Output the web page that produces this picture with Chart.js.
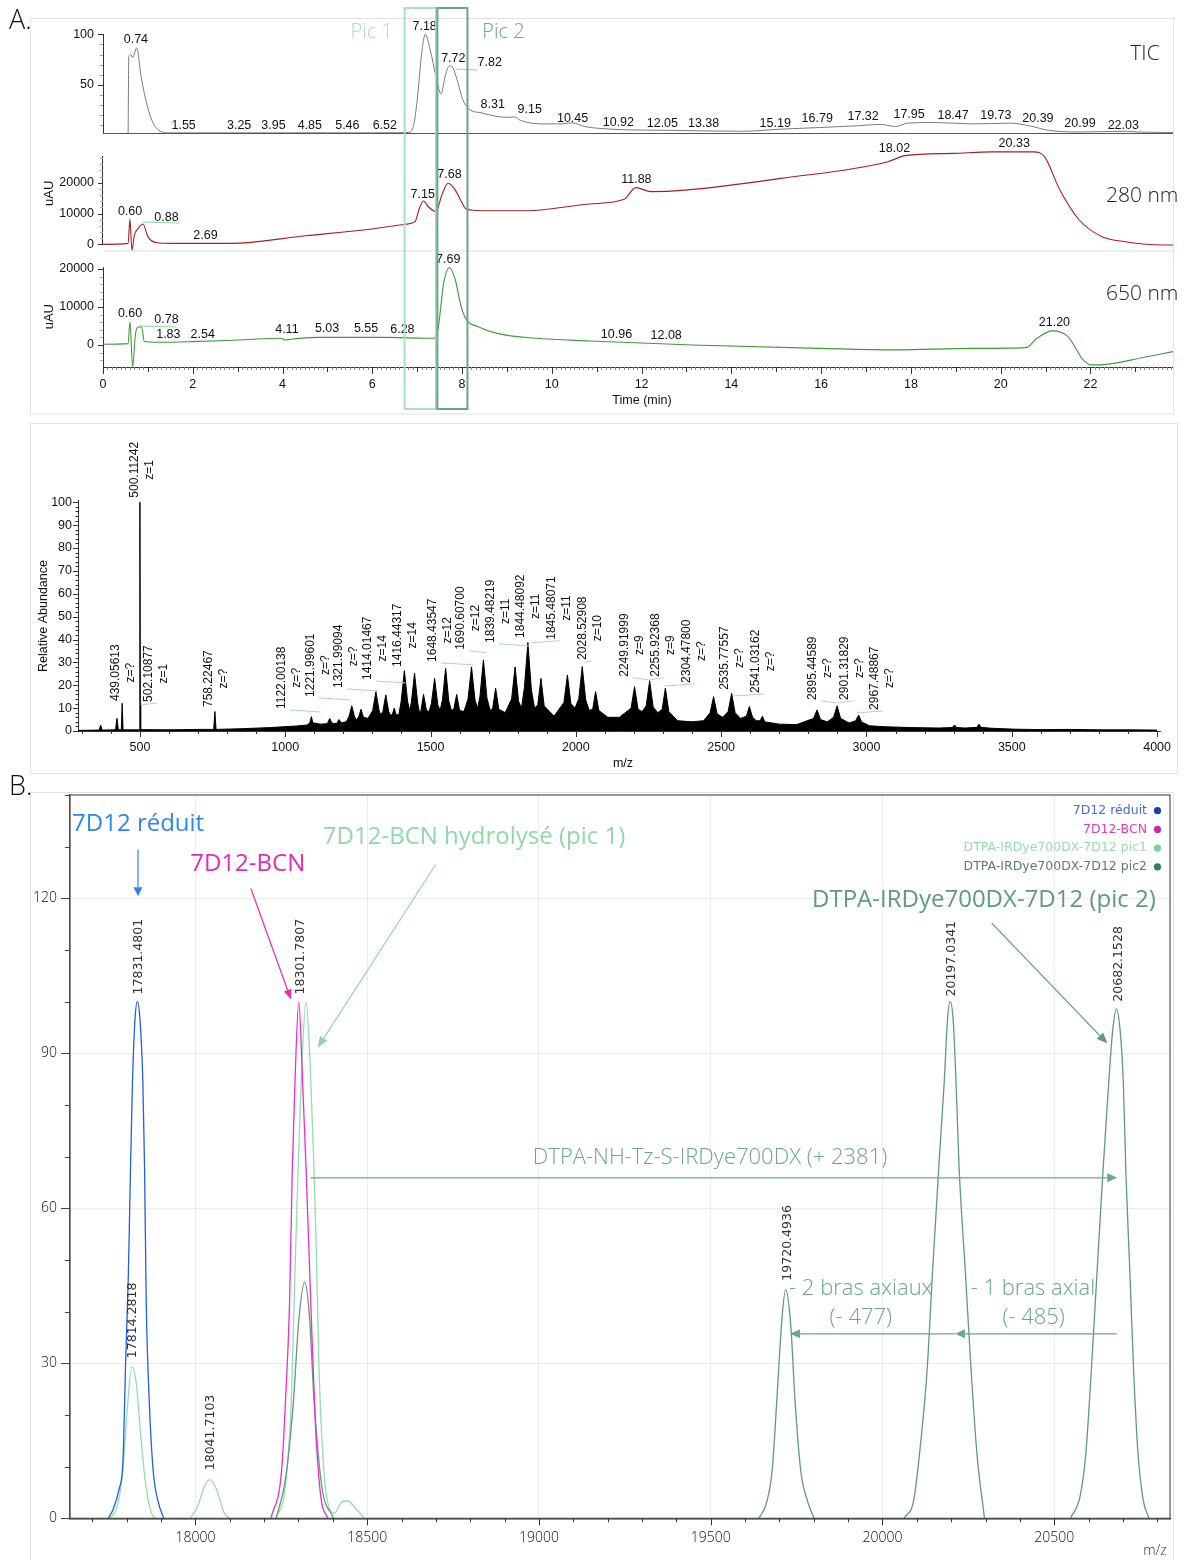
<!DOCTYPE html>
<html>
<head>
<meta charset="utf-8">
<title>Chromatogrammes et spectres de masse 7D12</title>
<script src="https://cdn.jsdelivr.net/npm/chart.js@4.4.1/dist/chart.umd.min.js"></script>
<style>
  html, body { margin: 0; padding: 0; background: #fff; }
  #page { position: relative; width: 1190px; height: 1560px; overflow: hidden; }
  canvas { position: absolute; left: 0; }
</style>
</head>
<body>
<div id="page">
  <canvas id="uv280" width="1190" height="130" style="top:128px"></canvas>
  <canvas id="vis650" width="1190" height="175" style="top:248px"></canvas>
  <canvas id="tic" width="1190" height="420" style="top:0px"></canvas>
  <canvas id="ms" width="1190" height="360" style="top:420px"></canvas>
  <canvas id="deconv" width="1190" height="790" style="top:770px"></canvas>
</div>
<script>
// ---------- A: chromatograms (time in min) ----------
const ticTime = [0.56, 0.575, 0.62, 0.66, 0.75, 0.85, 0.99, 1.12, 1.29, 1.46, 2.5, 3.5, 4.5, 5.5, 6.3, 6.8, 6.92, 7.0, 7.1, 7.18, 7.29, 7.42, 7.53, 7.63, 7.72, 7.8, 7.89, 8.02, 8.19, 8.4, 8.78, 9.05, 9.17, 9.3, 9.81, 10.2, 10.45, 10.74, 11.07, 11.7, 12.55, 13.5, 14.25, 15.1, 15.96, 16.8, 17.32, 17.66, 17.92, 18.51, 19.37, 20.22, 20.64, 21.06, 21.75, 22.78, 23.03, 23.84];
const ticSignal = [2.5, 78, 80, 77, 86.5, 58, 28.6, 12, 4, 2.6, 2.6, 2.6, 2.7, 2.6, 2.7, 3, 10, 35, 81, 100, 84.6, 58, 41, 60, 69, 66.5, 55, 35, 25, 22.7, 18.8, 18, 18.5, 15, 11.5, 11.5, 12.5, 8.9, 7, 5.6, 5.2, 4.5, 4.2, 6.3, 7.9, 9.6, 11, 8.9, 12.2, 12.9, 11.5, 12.2, 9.6, 5.2, 3.5, 4.2, 3.5, 3];

const uvTime = [0, 0.56, 0.6, 0.645, 0.7, 0.77, 0.89, 1.0, 1.2, 1.54, 2.82, 4.52, 6.0, 6.74, 6.95, 7.05, 7.14, 7.25, 7.42, 7.55, 7.69, 7.85, 7.98, 8.1, 8.44, 9.46, 10.84, 11.61, 11.87, 12.21, 12.97, 15.1, 17.49, 17.87, 18.94, 19.79, 20.73, 20.98, 21.32, 21.75, 22.26, 22.78, 23.63, 23.84];
const uvSignal = [0, 300, 8200, -1900, 3000, 4900, 6600, 2500, 500, 300, 300, 2800, 5000, 6500, 7350, 11700, 14060, 12200, 10600, 16000, 19800, 17600, 14000, 11360, 10900, 10900, 13100, 14600, 18400, 17100, 17600, 21400, 26800, 28800, 29500, 30000, 30000, 28400, 17600, 7900, 2500, 850, -200, -200];

const visTime = [0, 0.56, 0.6, 0.66, 0.72, 0.77, 0.86, 0.92, 1.2, 1.97, 3.0, 3.97, 4.06, 4.18, 4.78, 6.23, 7.34, 7.46, 7.59, 7.72, 7.85, 7.98, 8.1, 8.36, 8.78, 9.64, 10.84, 13.14, 15.96, 17.66, 19.37, 20.56, 20.81, 21.15, 21.5, 21.84, 22.0, 22.18, 23.2, 23.84];
const visSignal = [175, 350, 6100, -5700, 2500, 4650, 4800, 900, 700, 870, 1300, 1750, 1300, 1500, 2000, 2000, 1750, 3950, 16200, 20400, 17100, 10100, 6600, 4800, 3050, 1750, 1050, 0, -900, -1300, -900, -700, 1750, 3700, 2200, -3950, -5250, -5250, -3250, -1750];

// peak labels: [text, time, signal level of the label]
const ticPeakLabels = [['0.74', 0.733, 94.4], ['1.55', 1.797, 9.4], ['3.25', 3.033, 9.4], ['3.95', 3.799, 9.4], ['4.85', 4.609, 9.4], ['5.46', 5.444, 9.4], ['6.52', 6.279, 9.4], ['7.18', 7.166, 107.5], ['7.72', 7.805, 76.3], ['7.82', 8.615, 71.9], ['8.31', 8.682, 30.2], ['9.15', 9.508, 25.2], ['10.45', 10.463, 17], ['10.92', 11.483, 12.7], ['12.05', 12.463, 12.1], ['13.38', 13.382, 12.1], ['15.19', 14.977, 12.1], ['16.79', 15.914, 17], ['17.32', 16.936, 18.6], ['17.95', 17.96, 20.3], ['18.47', 18.94, 19.3], ['19.73', 19.893, 19.3], ['20.39', 20.83, 17], ['20.99', 21.768, 12.1], ['22.03', 22.732, 9.7]];
const uvPeakLabels = [['0.60', 0.603, 10580], ['0.88', 1.414, 8770], ['2.69', 2.282, 2700], ['7.15', 7.123, 16000], ['7.68', 7.72, 22730], ['11.88', 11.884, 20880], ['18.02', 17.635, 31170], ['20.33', 20.303, 32800]];
const visPeakLabels = [['0.60', 0.603, 8160], ['0.78', 1.414, 6580], ['1.83', 1.456, 2630], ['2.54', 2.222, 2630], ['4.11', 4.097, 3950], ['5.03', 4.992, 4210], ['5.55', 5.861, 4210], ['6.28', 6.671, 3950], ['7.69', 7.693, 22370], ['10.96', 11.44, 2630], ['12.08', 12.547, 2370], ['21.20', 21.198, 5870]];
const ticMarkers = [[7.84, 8.35, 65.7]];
const uvMarkers = [[0.89, 1.71, 7240]];
const visMarkers = [[0.8, 1.63, 5000]];
const picWindows = [['Pic 1', 6.72, 7.42, '#a9e0bf'], ['Pic 2', 7.45, 8.12, '#6aa587']];

// ---------- A: ESI mass spectrum ----------
const msMz = [287, 300, 360, 365, 370, 416, 421, 426, 436, 439, 442, 497, 500, 501.5, 502, 503.5, 600, 700, 754, 758, 762, 850, 950, 1040, 1075, 1085, 1090, 1095, 1120, 1145, 1153, 1161, 1177, 1185, 1193, 1210, 1220, 1229, 1238, 1245, 1253, 1261, 1269, 1285, 1301, 1312, 1323, 1329, 1336, 1346, 1356, 1362, 1368, 1375, 1382, 1391, 1399, 1410, 1421, 1428, 1434, 1445, 1456, 1462, 1467, 1476, 1486, 1495, 1503, 1514, 1525, 1533, 1541, 1552, 1563, 1572, 1580, 1590, 1600, 1615, 1629, 1641, 1653, 1662, 1670, 1682, 1694, 1705, 1714, 1724, 1735, 1757, 1779, 1791, 1803, 1813, 1823, 1835, 1847, 1858, 1869, 1880, 1891, 1925, 1959, 1971, 1983, 1997, 2010, 2022, 2034, 2046, 2058, 2068, 2079, 2110, 2150, 2190, 2202, 2214, 2228, 2242, 2254, 2266, 2282, 2297, 2308, 2320, 2350, 2400, 2440, 2462, 2474, 2486, 2505, 2524, 2536, 2548, 2567, 2587, 2597, 2608, 2621, 2634, 2642, 2650, 2700, 2760, 2818, 2830, 2842, 2865, 2887, 2899, 2911, 2940, 2963, 2973, 2983, 3010, 3057, 3150, 3250, 3295, 3303, 3311, 3340, 3380, 3387, 3394, 3430, 3510, 3600, 3700, 3800, 3900, 4000];
const msAbundance = [0.3, 0.3, 0.4, 2.6, 0.4, 0.5, 5.5, 0.5, 0.5, 12.1, 0.5, 0.5, 100, 0.6, 12, 0.6, 0.5, 0.7, 0.7, 8.5, 0.7, 1, 1.5, 2.2, 2.6, 3.6, 6.3, 3.6, 3, 3.2, 5.5, 3.4, 3.3, 5, 3.6, 4, 6.5, 11, 6.5, 4.8, 6.2, 9.5, 6, 5.5, 9, 17.2, 9, 7, 8.5, 15.8, 8.5, 7, 7, 10, 7, 7.2, 13, 26.4, 13, 9, 12.5, 25.3, 12, 8, 9, 16, 9, 8.5, 12, 23, 11.5, 9, 13.5, 27.4, 13, 9, 9.5, 16, 9, 8.5, 14, 28, 13.5, 10, 15, 31.1, 14.5, 9, 10, 18.7, 9.5, 8, 14, 28, 13, 10, 19, 38.7, 18, 10, 11.5, 23, 11, 6.5, 12.5, 24.5, 12, 10, 14, 28.2, 13.5, 9, 9.5, 17.2, 9, 6, 6, 10, 19.4, 9.5, 8.5, 11, 22, 10.5, 8, 9.5, 18.7, 8.5, 4.5, 4, 4.5, 8, 15, 7.5, 6, 8.5, 16.5, 8, 5.5, 6.5, 10.7, 6, 4.5, 4.5, 6.5, 4, 3, 2.8, 5.5, 9.2, 5, 4, 6, 11, 5.5, 3.5, 4.5, 7, 4, 2.3, 1.9, 1.5, 1.3, 1.5, 2.6, 1.5, 1.3, 1.6, 3, 1.6, 1.2, 0.8, 0.6, 0.7, 0.5, 0.5, 0.4];
// [m/z text, charge text, label m/z, label bottom (rel. abundance)]
const msPeakLabels = [['439.05613', 'z=?', 417, 13.1], ['500.11242', 'z=1', 483, 102], ['502.10877', 'z=1', 531, 12.7], ['758.22467', 'z=?', 737, 10.5], ['1122.00138', 'z=?', 989, 9.6], ['1221.99601', 'z=?', 1088, 14.9], ['1321.99094', 'z=?', 1185, 18.8], ['1414.01467', 'z=14', 1285, 22.3], ['1416.44317', 'z=14', 1388, 28], ['1648.43547', 'z=12', 1508, 30.2], ['1690.60700', 'z=12', 1605, 35.5], ['1839.48219', 'z=11', 1708, 38.5], ['1844.48092', 'z=11', 1811, 40.7], ['1845.48071', 'z=11', 1918, 39.9], ['2028.52908', 'z=10', 2024, 31.1], ['2249.91999', 'z=9', 2169, 23.7], ['2255.92368', 'z=9', 2276, 23.7], ['2304.47800', 'z=?', 2382, 21], ['2535.77557', 'z=?', 2513, 18], ['2541.03162', 'z=?', 2620, 16.6], ['2895.44589', 'z=?', 2816, 13.6], ['2901.31829', 'z=?', 2926, 13.6], ['2967.48867', 'z=?', 3029, 9.2]];

// ---------- B: deconvoluted spectra ----------
const deconvSeries = ['7D12 réduit', '7D12-BCN', 'DTPA-IRDye700DX-7D12 pic1', 'DTPA-IRDye700DX-7D12 pic2'];
const reduitMz = [17746, 17761, 17778, 17789, 17797, 17805, 17811, 17817, 17824, 17831, 17839, 17847, 17852, 17857, 17866, 17877, 17893, 17908];
const reduitInt = [0, 1.8, 5.7, 10.9, 30.3, 47.5, 67.3, 84.7, 96.3, 100, 96.3, 84.7, 68, 41.5, 22.3, 9.3, 2.9, 0];
const bcnMz = [18220, 18251, 18262, 18274, 18282, 18290, 18301, 18312, 18322, 18336, 18349, 18365, 18385];
const bcnInt = [0, 9.3, 22.3, 41.5, 67.3, 84.7, 100, 84.7, 68, 41.5, 18.7, 4.2, 0];
const pic1Mz = [17750, 17772, 17789, 17800, 17815, 17828, 17841, 17856, 17872, 17884, 17940, 17984, 18006, 18028, 18043, 18062, 18084, 18101, 18170, 18235, 18262, 18279, 18290, 18300, 18310, 18322, 18334, 18343, 18351, 18360, 18374, 18392, 18405, 18424, 18443, 18463, 18491];
const pic1Int = [0, 2.2, 9.3, 19.6, 29.3, 26.1, 15.8, 6.2, 1, 0, null, 0, 2.2, 6.4, 7.5, 5.5, 1, 0, null, 0, 6.2, 22.3, 48, 70, 88, 100, 88, 72, 54.5, 28.7, 9.3, 1.6, 1, 3, 3.4, 2.2, 0];
const pic2Mz = [18235, 18262, 18285, 18301, 18318, 18331, 18346, 18368, 18402, 19000, 19640, 19662, 19679, 19692, 19707, 19718, 19732, 19746, 19762, 19784, 19801, 19950, 20063, 20091, 20113, 20130, 20146, 20164, 20180, 20189, 20197, 20206, 20214, 20223, 20241, 20258, 20275, 20297, 20450, 20547, 20575, 20592, 20608, 20625, 20642, 20659, 20670, 20681, 20692, 20701, 20709, 20720, 20731, 20744, 20759, 20776];
const pic2Int = [0, 7.5, 22.3, 38.3, 45.7, 40, 22.3, 6.2, 0, null, 0, 2.9, 9.3, 22.3, 38.3, 44.2, 38.3, 22.3, 9.3, 2.9, 0, null, 0, 3.5, 15.8, 28.7, 48, 68, 84.7, 96.3, 100, 96.3, 84.7, 68, 48, 28.7, 12.5, 0, null, 0, 4.2, 12.5, 28.7, 48, 67.3, 84.7, 94.3, 98.6, 94.3, 84.7, 66, 48, 28.7, 12.5, 3.5, 0];
// [mass, label bottom intensity]
const deconvPeakLabels = [[17831.4801, 101.4], [18301.7807, 101.4], [17814.2818, 31], [18041.7103, 9.3], [19720.4936, 46], [20197.0341, 101], [20682.1528, 100]];

// ---------- helpers ----------
const SANS = '"Liberation Sans", Arial, sans-serif';
const OPEN = '"Open Sans", sans-serif';
const DJV = '"DejaVu Sans", sans-serif';
const T_MAX = 23.84;

const steps = (a, b, s) => { const out = []; for (let i = 0; a + i * s <= b + 1e-9; i++) out.push(+(a + i * s).toFixed(3)); return out; };
const isMult = (v, m) => Math.abs(v / m - Math.round(v / m)) < 1e-6;
const pts = (xs, ys) => xs.map((x, i) => ({ x, y: ys[i] }));

function lineSet(xs, ys, color, width, extra) {
  return Object.assign({
    data: pts(xs, ys), borderColor: color, borderWidth: width, pointRadius: 0,
    cubicInterpolationMode: 'monotone', spanGaps: false, fill: false,
  }, extra);
}

function baseOptions(padding, scales) {
  return {
    responsive: false, animation: false, devicePixelRatio: 1, events: [],
    layout: { padding },
    plugins: { legend: { display: false }, tooltip: { enabled: false } },
    elements: { point: { radius: 0 } },
    scales,
  };
}

function yAxis(min, max, tickVals, labelEvery, pad, font, extra) {
  return Object.assign({
    type: 'linear', min, max, bounds: 'data',
    afterBuildTicks: s => { s.ticks = tickVals.map(v => ({ value: v })); },
    afterFit: s => { s.width = 60; s.paddingTop = 0; s.paddingBottom = 0; },
    grid: { display: false, drawTicks: false },
    border: { color: '#333' },
    ticks: { autoSkip: false, padding: pad, color: '#111', font, callback: v => (isMult(v, labelEvery) ? String(v) : '') },
  }, extra);
}

function xAxis(min, max, tickVals, labelEvery, pad, height, font, extra) {
  return Object.assign({
    type: 'linear', min, max, bounds: 'data',
    afterBuildTicks: s => { s.ticks = tickVals.map(v => ({ value: v })); },
    afterFit: s => { s.height = height; s.paddingLeft = 0; s.paddingRight = 0; },
    grid: { display: false, drawTicks: false },
    border: { color: '#333' },
    ticks: { autoSkip: false, maxRotation: 0, padding: pad, color: '#111', font, callback: v => (isMult(v, labelEvery) ? String(Math.round(v)) : '') },
  }, extra);
}

const hiddenTime = { type: 'linear', display: false, min: 0, max: T_MAX, bounds: 'data' };

function text(ctx, str, x, y, font, color, align, rot) {
  ctx.save();
  ctx.font = font; ctx.fillStyle = color;
  ctx.textAlign = align || 'center'; ctx.textBaseline = 'middle';
  ctx.translate(x, y);
  if (rot) ctx.rotate(rot);
  ctx.fillText(str, 0, 0);
  ctx.restore();
}

function line(ctx, x1, y1, x2, y2, color, w) {
  ctx.save();
  ctx.strokeStyle = color; ctx.lineWidth = w || 1;
  ctx.beginPath(); ctx.moveTo(x1, y1); ctx.lineTo(x2, y2); ctx.stroke();
  ctx.restore();
}

function arrow(ctx, x1, y1, x2, y2, color, w, hl, hw) {
  const a = Math.atan2(y2 - y1, x2 - x1);
  const bx = x2 - hl * Math.cos(a), by = y2 - hl * Math.sin(a);
  line(ctx, x1, y1, bx, by, color, w);
  ctx.save();
  ctx.fillStyle = color;
  ctx.beginPath();
  ctx.moveTo(x2, y2);
  ctx.lineTo(bx + hw / 2 * Math.sin(a), by - hw / 2 * Math.cos(a));
  ctx.lineTo(bx - hw / 2 * Math.sin(a), by + hw / 2 * Math.cos(a));
  ctx.closePath(); ctx.fill();
  ctx.restore();
}

// tick marks drawn on the library's own tick values, with major/minor lengths
function tickMarks(chart, id, lenFn, colorFn) {
  const s = chart.scales[id], ctx = chart.ctx;
  ctx.save(); ctx.lineWidth = 1;
  s.ticks.forEach(t => {
    const len = lenFn(t.value);
    const p = Math.round(s.getPixelForValue(t.value)) + 0.5;
    ctx.strokeStyle = colorFn ? colorFn(t.value) : '#333';
    ctx.beginPath();
    if (s.isHorizontal()) { ctx.moveTo(p, s.top); ctx.lineTo(p, s.top + len); }
    else { ctx.moveTo(s.right, p); ctx.lineTo(s.right - len, p); }
    ctx.stroke();
  });
  ctx.restore();
}

function peakLabels(chart, list) {
  const { ctx, scales: { x, y } } = chart;
  list.forEach(([s, t, v]) => text(ctx, s, x.getPixelForValue(t), y.getPixelForValue(v), `12.5px ${SANS}`, '#111'));
}

function markers(chart, list) {
  const { ctx, scales: { x, y } } = chart;
  list.forEach(([t1, t2, v]) => line(ctx, x.getPixelForValue(t1), y.getPixelForValue(v), x.getPixelForValue(t2), y.getPixelForValue(v) + 1, '#93d59c', 1));
}

const tickFont = { family: SANS, size: 12.5 };

// ---------- TIC (top canvas also carries panel A decorations) ----------
new Chart(document.getElementById('tic'), {
  type: 'line',
  data: { datasets: [lineSet(ticTime, ticSignal, '#7b7b7b', 1, { clip: false })] },
  options: baseOptions({ left: 43, right: 17, top: 34.3, bottom: 287 }, {
    x: hiddenTime,
    y: yAxis(2.5, 100, steps(10, 100, 10), 50, 9, tickFont),
  }),
  plugins: [{
    id: 'ticDeco',
    afterDraw(chart) {
      const { ctx, chartArea: a, scales: { x } } = chart;
      ctx.save(); ctx.strokeStyle = '#e3e3e3'; ctx.lineWidth = 1;
      ctx.strokeRect(30.5, 18.5, 1143, 395.5);
      ctx.restore();
      text(ctx, 'A.', 9, 21, `300 27px ${OPEN}`, '#111', 'left');
      line(ctx, a.left, a.bottom + 0.5, a.right, a.bottom + 0.5, '#555', 1);
      tickMarks(chart, 'y', v => (isMult(v, 50) ? 5 : 3), v => (isMult(v, 50) ? '#333' : '#999'));
      markers(chart, ticMarkers);
      peakLabels(chart, ticPeakLabels);
      picWindows.forEach(([name, t1, t2, color], i) => {
        const x1 = x.getPixelForValue(t1), x2 = x.getPixelForValue(t2);
        ctx.save(); ctx.strokeStyle = color; ctx.lineWidth = 2;
        ctx.strokeRect(x1, 8, x2 - x1, 401);
        ctx.restore();
        text(ctx, name, i === 0 ? x1 - 33 : x2 + 36, 32, `300 20px ${OPEN}`, color);
      });
      text(ctx, 'TIC', 1145, 54, `300 21px ${OPEN}`, '#222');
      text(ctx, '280 nm', 1106, 196, `300 21px ${OPEN}`, '#222', 'left');
      text(ctx, '650 nm', 1106, 294, `300 21px ${OPEN}`, '#222', 'left');
    },
  }],
});

// ---------- 280 nm ----------
new Chart(document.getElementById('uv280'), {
  type: 'line',
  data: { datasets: [lineSet(uvTime, uvSignal, '#a3201f', 1.1, { clip: false })] },
  options: baseOptions({ left: 43, right: 17, top: 20.8, bottom: 7.5 }, {
    x: hiddenTime,
    y: yAxis(-2000, 31000, steps(0, 28000, 2000), 10000, 9, tickFont, { border: { display: false } }),
  }),
  plugins: [{
    id: 'uvDeco',
    afterDraw(chart) {
      const { ctx, chartArea: a, scales: { y } } = chart;
      line(ctx, a.left, a.bottom + 0.5, a.right, a.bottom + 0.5, '#dddddd', 1);
      line(ctx, a.left - 0.5, y.getPixelForValue(0), a.left - 0.5, y.getPixelForValue(28700), '#333', 1);
      tickMarks(chart, 'y', v => (isMult(v, 10000) ? 5 : 3), v => (isMult(v, 10000) ? '#333' : '#aaa'));
      text(ctx, 'uAU', 49.8, 65.3, `13px ${SANS}`, '#111', 'center', -Math.PI / 2);
      markers(chart, uvMarkers);
      peakLabels(chart, uvPeakLabels);
    },
  }],
});

// ---------- 650 nm (carries the time axis) ----------
new Chart(document.getElementById('vis650'), {
  type: 'line',
  data: { datasets: [lineSet(visTime, visSignal, '#3d9a3a', 1.1, { clip: false })] },
  options: baseOptions({ left: 43, right: 17, top: 19.1, bottom: 0 }, {
    x: xAxis(0, T_MAX, steps(0, 23.8, 0.1), 2, 10, 56, tickFont),
    y: yAxis(-5800, 20500, steps(-4000, 20000, 2000), 10000, 9, tickFont),
  }),
  plugins: [{
    id: 'visDeco',
    afterDraw(chart) {
      const { ctx } = chart;
      tickMarks(chart, 'x', v => (isMult(v, 2) ? 7 : isMult(v, 1) ? 5 : 3), v => (isMult(v, 1) ? '#333' : '#888'));
      tickMarks(chart, 'y', v => (isMult(v, 10000) ? 5 : 3), v => (isMult(v, 10000) ? '#333' : '#aaa'));
      text(ctx, 'uAU', 49.8, 68.7, `13px ${SANS}`, '#111', 'center', -Math.PI / 2);
      text(ctx, 'Time (min)', 642, 153, `12.5px ${SANS}`, '#111');
      markers(chart, visMarkers);
      peakLabels(chart, visPeakLabels);
    },
  }],
});

// ---------- mass spectrum ----------
new Chart(document.getElementById('ms'), {
  type: 'line',
  data: { datasets: [lineSet(msMz, msAbundance, '#000', 1, { cubicInterpolationMode: 'default', tension: 0, fill: 'origin', backgroundColor: '#000' })] },
  options: baseOptions({ left: 18, right: 30, top: 80, bottom: 0 }, {
    x: xAxis(287, 4010, steps(300, 4000, 100), 500, 9, 49, tickFont),
    y: yAxis(0, 101, steps(0, 100, 2), 10, 6, tickFont),
  }),
  plugins: [{
    id: 'msDeco',
    afterDraw(chart) {
      const { ctx, scales: { x, y } } = chart;
      ctx.save(); ctx.strokeStyle = '#e3e3e3'; ctx.lineWidth = 1;
      ctx.strokeRect(30.5, 3.5, 1147, 350);
      ctx.restore();
      tickMarks(chart, 'x', v => (isMult(v, 500) ? 6 : 3));
      tickMarks(chart, 'y', v => (isMult(v, 10) ? 5 : 2.5));
      text(ctx, 'Relative Abundance', 44, 196, `12.5px ${SANS}`, '#111', 'center', -Math.PI / 2);
      text(ctx, 'm/z', 623, 344, `12.5px ${SANS}`, '#111');
      const font = `12px ${SANS}`;
      msPeakLabels.forEach(([mz, z, lx, bottom]) => {
        const X = x.getPixelForValue(lx), B = y.getPixelForValue(bottom);
        ctx.font = font;
        const L = ctx.measureText(mz).width;
        const P = x.getPixelForValue(parseFloat(mz));
        if (Math.abs(P - (X + 8)) > 6) line(ctx, X + 8, B + 1, P, B + 3, '#a9dcaa', 1);
        text(ctx, mz, X, B, font, '#111', 'left', -Math.PI / 2);
        text(ctx, z, X + 15, B - L / 2, font, '#111', 'center', -Math.PI / 2);
      });
    },
  }],
});

// ---------- B: deconvoluted masses ----------
const bFont = { family: OPEN, size: 14, weight: '300' };
const deconvTitles = [
  ['7D12 réduit', 17641, 134.3, '#2f86e6', 24],
  ['7D12-BCN', 17985, 126.6, '#e02cbb', 24],
  ['7D12-BCN hydrolysé (pic 1)', 18371, 131.8, '#8fd8a9', 24],
  ['DTPA-IRDye700DX-7D12 (pic 2)', 19795, 119.6, '#5e9a7b', 24],
];
const deconvNotes = [
  ['DTPA-NH-Tz-S-IRDye700DX (+ 2381)', 19498, 69.8],
  ['- 2 bras axiaux', 19937, 44.5],
  ['(- 477)', 19937, 38.9],
  ['- 1 bras axial', 20438, 44.5],
  ['(- 485)', 20440, 38.9],
];
const deconvArrows = [
  [17833, 129.4, 17833, 120.4, '#2f86e6', 9, 9],
  [18161.5, 121.9, 18278.5, 100.4, '#e02cbb', 10, 8],
  [18699, 126.5, 18356, 91.1, '#8fd8a9', 11, 9],
  [20318, 115.2, 20655, 91.9, '#5e9a7b', 11, 9],
  [18335, 65.9, 20683.5, 65.9, '#6aa888', 10, 9],
  [20683.5, 35.7, 20211, 35.7, '#6aa888', 10, 9],
  [20211, 35.7, 19731, 35.7, '#6aa888', 10, 9],
];
const legendColors = [['#4a6bd2', '#1a3fb5'], ['#d63ec4', '#c52aae'], ['#98dcb1', '#7ccf9a'], ['#5f7b6d', '#3d7a5b']];

new Chart(document.getElementById('deconv'), {
  type: 'line',
  data: {
    datasets: [
      lineSet(reduitMz, reduitInt, '#1f62d6', 1.3, { order: 0 }),
      lineSet(bcnMz, bcnInt, '#ec2dc6', 1.3, { order: 1 }),
      lineSet(pic2Mz, pic2Int, '#5f9a7c', 1.3, { order: 2 }),
      lineSet(pic1Mz, pic1Int, '#93dcb0', 1.3, { order: 3 }),
    ],
  },
  options: baseOptions({ left: 10, right: 20, top: 25, bottom: 0 }, {
    x: xAxis(17635, 20837, steps(17700, 20800, 100), 500, 11, 41.7, bFont, {
      grid: { color: c => (isMult(c.tick.value, 500) ? '#ececec' : 'rgba(0,0,0,0)'), drawTicks: false },
      border: { color: '#222', width: 1.5 },
    }),
    y: yAxis(0, 140, steps(0, 140, 10), 30, 13, bFont, {
      grid: { color: c => (isMult(c.tick.value, 30) ? '#ececec' : 'rgba(0,0,0,0)'), drawTicks: false },
      border: { color: '#444', width: 1.2 },
    }),
  }),
  plugins: [{
    id: 'deconvDeco',
    afterDraw(chart) {
      const { ctx, chartArea: a, scales: { x, y } } = chart;
      const X = v => x.getPixelForValue(v), Y = v => y.getPixelForValue(v);
      ctx.save();
      ctx.strokeStyle = '#e3e3e3'; ctx.lineWidth = 1;
      ctx.beginPath(); ctx.moveTo(30.5, 790); ctx.lineTo(30.5, 22.5); ctx.lineTo(1173.5, 22.5); ctx.lineTo(1173.5, 790); ctx.stroke();
      ctx.strokeStyle = '#555'; ctx.lineWidth = 1.2;
      ctx.strokeRect(a.left, a.top, a.right - a.left, a.bottom - a.top);
      ctx.restore();
      text(ctx, 'B.', 9, 17, `300 27px ${OPEN}`, '#111', 'left');
      tickMarks(chart, 'x', v => (isMult(v, 500) ? 7 : 4), () => '#333');
      tickMarks(chart, 'y', v => (isMult(v, 30) ? 9 : 5), () => '#444');
      text(ctx, 'm/z', 1155, 781, `300 14px ${OPEN}`, '#333');

      deconvPeakLabels.forEach(([m, v]) => text(ctx, m.toFixed(4), X(m) + 1.5, Y(v), `12.5px ${DJV}`, '#333', 'left', -Math.PI / 2));
      deconvArrows.forEach(([x1, y1, x2, y2, c, hl, hw]) => arrow(ctx, X(x1), Y(y1), X(x2), Y(y2), c, 1.2, hl, hw));
      deconvTitles.forEach(([s, m, v, c, size]) => text(ctx, s, X(m), Y(v), `${size}px ${OPEN}`, c, 'left'));
      deconvNotes.forEach(([s, m, v]) => text(ctx, s, X(m), Y(v), `300 22px ${OPEN}`, '#6aa888'));

      deconvSeries.forEach((name, i) => {
        const yy = a.top + 15.7 + i * 18.7;
        text(ctx, name, a.right - 23, yy, `12.5px ${DJV}`, legendColors[i][0], 'right');
        ctx.save(); ctx.fillStyle = legendColors[i][1];
        ctx.beginPath(); ctx.arc(a.right - 12.5, yy, 3.6, 0, Math.PI * 2); ctx.fill();
        ctx.restore();
      });
    },
  }],
});
</script>
</body>
</html>
